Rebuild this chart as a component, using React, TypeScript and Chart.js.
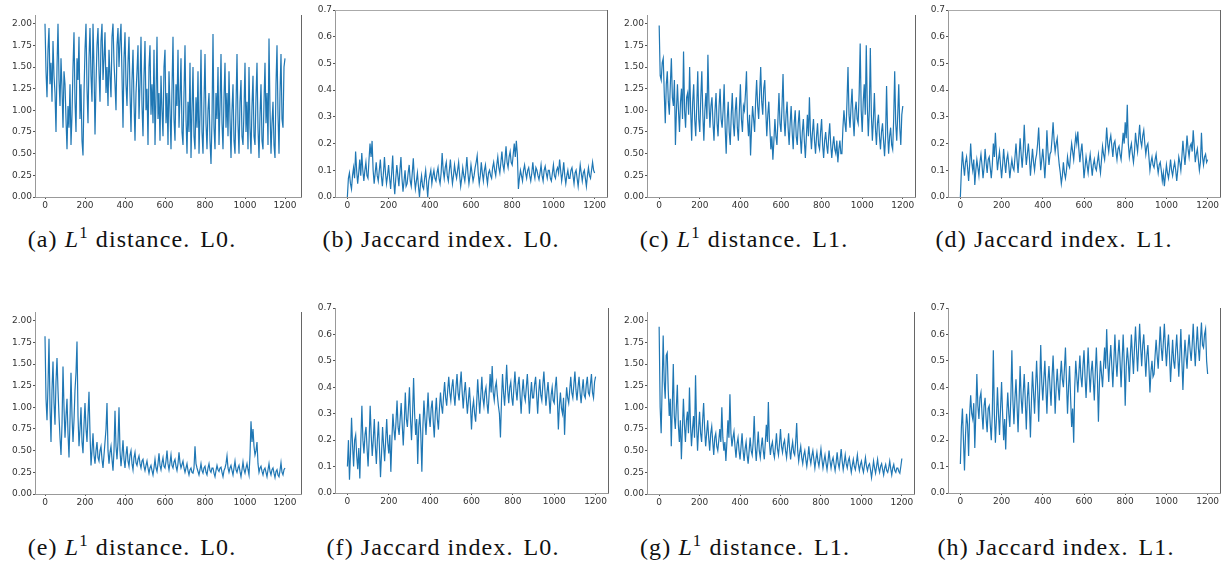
import React, { useEffect, useRef } from "react";
import { Chart, registerables } from "chart.js";

Chart.register(...registerables);

// ---- data -------------------------------------------------------------
const SAMPLE_STEP = 5; // x distance between stored samples
const X_TICKS = [0, 200, 400, 600, 800, 1000, 1200];
const L1_TICKS = [0, 0.25, 0.5, 0.75, 1.0, 1.25, 1.5, 1.75, 2.0];
const JACCARD_TICKS = [0, 0.1, 0.2, 0.3, 0.4, 0.5, 0.6, 0.7];

// (a) L1 distance, L0 (top row)
const l1L0Top = [
  2.0, 1.45, 1.15, 1.7, 1.95, 1.3, 1.55, 1.1, 1.8, 1.4,
  1.2, 0.75, 1.5, 2.0, 1.35, 1.05, 1.6, 1.25, 0.8, 1.45,
  1.3, 0.9, 0.55, 1.05, 0.8, 1.3, 0.6, 0.95, 1.5, 1.9,
  1.1, 0.75, 1.6, 1.35, 1.85, 0.9, 1.3, 0.65, 0.48, 1.2,
  1.7, 2.0, 1.25, 0.85, 1.6, 1.95, 1.4, 1.1, 2.0, 1.5,
  0.72, 1.3, 1.75, 1.95, 1.45, 1.1, 1.8, 2.0, 1.35, 1.6,
  1.9, 1.2, 1.5, 1.05, 1.7, 1.4, 1.15, 1.85, 2.0, 1.55,
  1.3, 1.0, 1.75, 1.95, 1.5, 1.8, 2.0, 1.4, 0.8, 1.6,
  1.9, 1.3, 1.05, 1.55, 1.85, 1.2, 0.75, 1.35, 1.7, 1.1,
  0.65, 1.2, 1.45, 1.75, 0.9, 1.3, 1.85, 1.05, 0.7, 1.4,
  1.8, 1.0, 1.25, 0.6, 1.5, 1.75, 0.95, 1.3, 0.85, 1.7,
  0.6, 1.15, 1.85, 0.9, 1.2, 0.65, 1.4, 1.0, 0.7, 1.5,
  1.7, 0.85, 1.2, 0.6, 1.45, 1.0, 0.55, 1.25, 1.85, 0.9,
  0.65, 1.3, 1.05, 1.7, 0.8, 1.15, 1.6, 0.75, 0.6, 1.2,
  1.75, 0.9, 0.5, 1.1, 0.75, 1.55, 0.45, 1.0, 1.5, 0.7,
  0.55, 1.15, 0.8, 1.45, 0.5, 0.95, 1.7, 0.75, 0.5, 1.1,
  1.65, 0.85, 0.55, 1.0, 1.2, 0.65, 0.38, 0.9, 1.88, 0.8,
  0.55, 1.2, 0.9, 1.5, 0.6, 1.05, 1.65, 0.85, 0.55, 1.15,
  1.55, 0.8, 1.2, 0.7, 1.45, 0.9, 0.45, 1.0, 1.3, 0.65,
  0.5, 1.05, 1.65, 0.85, 0.5, 1.1, 1.35, 0.7, 0.6, 1.0,
  1.55, 0.75, 1.1, 0.55, 1.5, 0.8, 0.5, 1.05, 1.4, 0.7,
  0.6, 1.15, 1.55, 0.8, 0.45, 0.95, 1.3, 0.65, 0.55, 1.1,
  1.55, 0.85, 1.2, 0.6, 1.83, 1.0, 0.5, 0.85, 1.1, 0.6,
  0.45, 1.3, 1.75, 0.95, 0.5, 1.2, 1.65, 0.9, 0.8, 1.5,
  1.6,
];

// (b) Jaccard index, L0 (top row)
const jaccardL0Top = [
  0.0, 0.07, 0.09, 0.05, 0.03, 0.08, 0.11, 0.07, 0.17, 0.1,
  0.05, 0.09, 0.14, 0.08, 0.165, 0.1, 0.06, 0.1, 0.13, 0.08,
  0.07, 0.14, 0.2, 0.15, 0.21, 0.1, 0.05, 0.09, 0.13, 0.08,
  0.06, 0.1, 0.14, 0.08, 0.04, 0.09, 0.15, 0.09, 0.05, 0.08,
  0.12, 0.07, 0.03, 0.09, 0.155, 0.06, 0.01, 0.07, 0.12, 0.08,
  0.04, 0.1, 0.15, 0.07, 0.02, 0.06, 0.1, 0.04, 0.05, 0.09,
  0.12, 0.06, 0.04, 0.09, 0.145, 0.07, 0.03, 0.06, 0.09, 0.04,
  0.0, 0.05, 0.08, 0.04, 0.03, 0.07, 0.1, 0.05, 0.0, 0.06,
  0.08, 0.1, 0.05, 0.08, 0.1, 0.07, 0.06, 0.09, 0.11, 0.07,
  0.05, 0.09, 0.165, 0.1, 0.07, 0.11, 0.13, 0.08, 0.06, 0.1,
  0.14, 0.09, 0.05, 0.08, 0.12, 0.09, 0.07, 0.1, 0.13, 0.08,
  0.04, 0.07, 0.11, 0.08, 0.06, 0.1, 0.15, 0.09, 0.05, 0.08,
  0.12, 0.09, 0.06, 0.08, 0.11, 0.13, 0.155, 0.09, 0.05, 0.08,
  0.13, 0.09, 0.06, 0.1, 0.12, 0.08, 0.05, 0.09, 0.1, 0.08,
  0.07, 0.11, 0.13, 0.1, 0.08, 0.12, 0.15, 0.11, 0.09, 0.13,
  0.17, 0.12, 0.1, 0.14, 0.19, 0.13, 0.11, 0.15, 0.17, 0.13,
  0.12, 0.16, 0.2, 0.15, 0.21, 0.16, 0.03, 0.07, 0.1, 0.08,
  0.06, 0.1, 0.12, 0.09, 0.07, 0.1, 0.11, 0.08, 0.06, 0.09,
  0.13, 0.09, 0.07, 0.11, 0.1, 0.08, 0.065, 0.09, 0.12, 0.08,
  0.06, 0.1, 0.115, 0.09, 0.07, 0.1, 0.1, 0.07, 0.06, 0.09,
  0.12, 0.08, 0.07, 0.1, 0.11, 0.09, 0.14, 0.1, 0.06, 0.09,
  0.13, 0.08, 0.05, 0.08, 0.1, 0.07, 0.07, 0.1, 0.11, 0.08,
  0.05, 0.09, 0.1, 0.07, 0.04, 0.08, 0.12, 0.09, 0.06, 0.09,
  0.1, 0.07, 0.04, 0.08, 0.11, 0.08, 0.07, 0.1, 0.13, 0.1,
  0.09,
];

// (c) L1 distance, L1 (top row)
const l1L1Top = [
  1.98, 1.4, 1.35, 1.55, 1.6, 1.2, 0.85, 1.3, 1.45, 1.1,
  0.95, 1.3, 1.6, 1.15, 1.05, 1.35, 0.6, 1.0, 1.3, 1.0,
  0.75, 1.1, 1.25, 0.9, 1.68, 1.0, 0.8, 1.15, 1.2, 0.95,
  1.5, 1.0, 0.65, 1.1, 1.3, 0.9, 0.7, 1.05, 1.45, 0.9,
  0.75, 1.15, 1.45, 0.95, 0.65, 1.0, 1.2, 0.9, 1.64, 1.1,
  0.8, 1.05, 1.15, 0.85, 0.65, 1.0, 1.2, 0.85, 0.7, 1.05,
  1.25, 0.9, 0.8, 1.0, 1.3, 0.8, 0.5, 0.9, 1.1, 0.75,
  0.6, 0.95, 1.2, 0.85, 0.7, 1.0, 1.15, 0.8, 0.65, 1.0,
  1.3, 0.9, 0.75, 1.05, 1.0, 1.2, 1.45, 0.9, 0.7, 0.95,
  0.48, 0.8, 1.05, 0.9, 0.75, 1.1, 1.35, 1.05, 0.9, 1.2,
  1.5, 1.1, 0.95, 1.25, 1.35, 1.0, 0.7, 0.95, 1.1, 0.8,
  0.55, 0.7, 0.43, 0.65, 0.9, 0.7, 0.6, 0.9, 1.2, 0.85,
  0.75, 1.05, 1.42, 0.9, 0.7, 0.95, 1.1, 0.8, 0.6, 0.85,
  1.05, 0.75, 0.55, 0.85, 1.0, 0.7, 0.6, 0.85, 1.0, 0.7,
  0.5, 0.75, 0.9, 0.65, 0.45, 0.7, 0.95, 0.7, 1.15, 0.75,
  0.55, 0.75, 0.9, 0.65, 0.5, 0.7, 0.85, 0.6, 0.55, 0.75,
  0.9, 0.6, 0.45, 0.65, 0.75, 0.6, 0.5, 0.7, 0.85, 0.6,
  0.45, 0.6, 0.7, 0.55, 0.5, 0.65, 0.4, 0.55, 0.65, 0.5,
  0.5, 0.8, 1.0, 0.85, 0.75, 1.1, 1.5, 0.95, 0.8, 1.05,
  1.25, 0.9, 0.7, 1.0, 1.1, 0.9, 0.85, 1.2, 1.77, 1.0,
  0.75, 1.1, 1.3, 0.95, 1.75, 1.05, 0.7, 1.0, 1.72, 0.95,
  0.65, 0.9, 1.2, 0.8, 0.6, 0.85, 0.95, 0.7, 0.55, 0.75,
  0.85, 0.65, 0.47, 0.7, 1.28, 0.75, 0.5, 0.7, 0.8, 0.6,
  0.55, 0.9, 1.45, 0.85, 0.65, 0.95, 1.3, 0.8, 0.6, 0.95,
  1.05,
];

// (d) Jaccard index, L1 (top row)
const jaccardL1Top = [
  0.0, 0.1, 0.17, 0.12, 0.08, 0.13, 0.15, 0.11, 0.06, 0.12,
  0.2, 0.13, 0.1, 0.14, 0.045, 0.1, 0.14, 0.11, 0.08, 0.13,
  0.16, 0.12, 0.07, 0.11, 0.18, 0.13, 0.09, 0.14, 0.15, 0.11,
  0.07, 0.12, 0.2, 0.15, 0.24, 0.16, 0.1, 0.14, 0.17, 0.12,
  0.07, 0.12, 0.18, 0.13, 0.09, 0.14, 0.16, 0.12, 0.07, 0.11,
  0.14, 0.11, 0.1, 0.15, 0.2, 0.14, 0.09, 0.15, 0.22, 0.16,
  0.11, 0.17, 0.27, 0.18, 0.12, 0.16, 0.2, 0.15, 0.08, 0.13,
  0.18, 0.13, 0.1, 0.14, 0.16, 0.2, 0.26, 0.17, 0.1, 0.14,
  0.18, 0.13, 0.07, 0.14, 0.25, 0.17, 0.12, 0.16, 0.17, 0.22,
  0.28, 0.21, 0.17, 0.2, 0.22, 0.16, 0.12, 0.09, 0.05, 0.08,
  0.13, 0.09, 0.07, 0.1, 0.15, 0.12, 0.11, 0.16, 0.2, 0.17,
  0.14, 0.19, 0.23, 0.2, 0.245, 0.18, 0.13, 0.17, 0.2, 0.14,
  0.07, 0.11, 0.15, 0.12, 0.09, 0.13, 0.16, 0.12, 0.08, 0.12,
  0.14, 0.11, 0.1, 0.13, 0.16, 0.12, 0.09, 0.14, 0.19, 0.16,
  0.14, 0.19, 0.26, 0.2, 0.17, 0.21, 0.23, 0.19, 0.15, 0.2,
  0.21, 0.17, 0.14, 0.18, 0.19, 0.16, 0.14, 0.19, 0.24, 0.2,
  0.28, 0.22, 0.345, 0.2, 0.15, 0.18, 0.2, 0.16, 0.13, 0.17,
  0.24, 0.2, 0.17, 0.22, 0.27, 0.21, 0.19, 0.23, 0.25, 0.2,
  0.16, 0.19, 0.2, 0.15, 0.1, 0.13, 0.15, 0.12, 0.11, 0.14,
  0.16, 0.12, 0.09, 0.12, 0.13, 0.1, 0.06, 0.09, 0.04, 0.08,
  0.12, 0.09, 0.07, 0.1, 0.14, 0.1, 0.08, 0.11, 0.13, 0.1,
  0.06, 0.1, 0.15, 0.13, 0.1, 0.15, 0.21, 0.16, 0.12, 0.17,
  0.23, 0.18, 0.15, 0.19, 0.2, 0.17, 0.25, 0.19, 0.13, 0.16,
  0.18, 0.14, 0.1, 0.13, 0.24, 0.15, 0.12, 0.15, 0.16, 0.13,
  0.14,
];

// (e) L1 distance, L0 (bottom row)
const l1L0Bottom = [
  1.82, 1.1, 0.85, 1.25, 1.79, 1.0, 0.6, 1.2, 1.53, 1.05,
  0.8, 1.3, 1.57, 1.2, 0.9, 0.65, 0.45, 0.8, 1.47, 1.0,
  0.65, 0.9, 1.1, 0.7, 0.42, 0.85, 1.4, 0.9, 0.6, 0.85,
  1.2, 1.4, 1.76, 0.9, 0.55, 0.75, 1.0, 0.6, 0.47, 0.8,
  1.05, 0.75, 0.6, 0.9, 1.18, 0.7, 0.33, 0.5, 0.7, 0.45,
  0.35, 0.5, 0.6, 0.42, 0.38, 0.5, 0.55, 0.4, 0.3, 0.45,
  0.6, 0.75, 1.05, 0.5, 0.35, 0.48, 0.55, 0.4, 0.27, 0.5,
  0.96, 0.55, 0.4, 0.6, 1.0, 0.5, 0.32, 0.45, 0.62, 0.4,
  0.3, 0.45, 0.55, 0.38, 0.32, 0.45, 0.5, 0.35, 0.28, 0.42,
  0.48, 0.36, 0.33, 0.4, 0.44, 0.35, 0.3, 0.38, 0.4, 0.32,
  0.27, 0.33, 0.38, 0.3, 0.24, 0.3, 0.33, 0.27, 0.22, 0.3,
  0.4, 0.3, 0.26, 0.35, 0.47, 0.33, 0.28, 0.36, 0.42, 0.32,
  0.3, 0.38, 0.5, 0.35, 0.28, 0.36, 0.45, 0.33, 0.3, 0.37,
  0.4, 0.32, 0.27, 0.35, 0.48, 0.36, 0.3, 0.34, 0.38, 0.3,
  0.25, 0.3, 0.35, 0.27, 0.22, 0.28, 0.3, 0.25, 0.24, 0.3,
  0.55, 0.35, 0.3, 0.26, 0.22, 0.28, 0.35, 0.27, 0.24, 0.3,
  0.32, 0.25, 0.22, 0.3, 0.35, 0.27, 0.25, 0.3, 0.3, 0.24,
  0.2, 0.27, 0.33, 0.28, 0.26, 0.3, 0.31, 0.25, 0.2, 0.27,
  0.3, 0.35, 0.44, 0.3, 0.25, 0.3, 0.33, 0.27, 0.22, 0.3,
  0.38, 0.28, 0.25, 0.3, 0.33, 0.26, 0.2, 0.28, 0.37, 0.28,
  0.24, 0.3, 0.35, 0.28, 0.22, 0.45, 0.84, 0.6, 0.75, 0.55,
  0.45, 0.5, 0.6, 0.35, 0.25, 0.3, 0.32, 0.26, 0.22, 0.28,
  0.3, 0.25, 0.2, 0.28, 0.35, 0.26, 0.22, 0.28, 0.3, 0.24,
  0.19, 0.26, 0.28, 0.22, 0.2, 0.27, 0.36, 0.25, 0.22, 0.28,
  0.3,
];

// (f) Jaccard index, L0 (bottom row)
const jaccardL0Bottom = [
  0.1, 0.2, 0.05, 0.15, 0.285, 0.18, 0.1, 0.2, 0.22, 0.14,
  0.09, 0.17, 0.055, 0.2, 0.33, 0.2, 0.15, 0.22, 0.25, 0.17,
  0.1, 0.2, 0.33, 0.22, 0.14, 0.2, 0.28, 0.18, 0.11, 0.2,
  0.27, 0.17, 0.06, 0.15, 0.25, 0.18, 0.12, 0.2, 0.28, 0.19,
  0.15, 0.22, 0.08, 0.2, 0.3, 0.24, 0.2, 0.27, 0.35, 0.25,
  0.22, 0.28, 0.34, 0.26, 0.18, 0.27, 0.38, 0.28, 0.25, 0.32,
  0.4, 0.28, 0.2, 0.3, 0.435, 0.3, 0.22, 0.28, 0.11, 0.25,
  0.3, 0.22, 0.08, 0.25, 0.35, 0.28, 0.22, 0.3, 0.38, 0.29,
  0.25, 0.32, 0.35, 0.27, 0.21, 0.3, 0.36, 0.28, 0.24, 0.32,
  0.38, 0.33, 0.3, 0.37, 0.42, 0.36, 0.33, 0.39, 0.44, 0.38,
  0.35, 0.4, 0.43, 0.37, 0.33, 0.4, 0.45, 0.38, 0.35, 0.41,
  0.46, 0.38, 0.32, 0.38, 0.42, 0.36, 0.3, 0.35, 0.4, 0.33,
  0.24, 0.32, 0.35, 0.3, 0.27, 0.34, 0.43, 0.36, 0.3, 0.37,
  0.44, 0.36, 0.33, 0.38, 0.4, 0.34, 0.3, 0.37, 0.45, 0.38,
  0.48, 0.38, 0.35, 0.4, 0.42, 0.37, 0.33, 0.3, 0.21, 0.35,
  0.45, 0.38, 0.33, 0.4, 0.485, 0.39, 0.34, 0.4, 0.42, 0.36,
  0.33, 0.4, 0.46, 0.39, 0.35, 0.41, 0.44, 0.37, 0.3, 0.38,
  0.43, 0.37, 0.35, 0.4, 0.45, 0.38, 0.3, 0.37, 0.42, 0.36,
  0.36, 0.41, 0.44, 0.37, 0.3, 0.38, 0.43, 0.37, 0.35, 0.41,
  0.46, 0.39, 0.33, 0.38, 0.42, 0.36, 0.3, 0.37, 0.4, 0.35,
  0.34, 0.4, 0.44, 0.36, 0.24, 0.33, 0.38, 0.32, 0.3, 0.36,
  0.22, 0.33, 0.4, 0.36, 0.34, 0.39, 0.44, 0.38, 0.36, 0.41,
  0.46, 0.39, 0.35, 0.4, 0.44, 0.38, 0.34, 0.39, 0.43, 0.37,
  0.36, 0.41, 0.44, 0.38, 0.37, 0.41, 0.45, 0.38, 0.36, 0.42,
  0.44,
];

// (g) L1 distance, L1 (bottom row)
const l1L1Bottom = [
  1.93, 1.0, 0.7, 1.25, 1.83, 1.3, 1.1, 1.6, 1.63, 1.2,
  0.9, 1.1, 0.55, 1.0, 1.5, 0.9, 0.75, 1.0, 1.26, 0.8,
  0.6, 0.85, 0.4, 0.75, 1.1, 0.8, 0.6, 0.85, 0.95, 0.7,
  1.23, 0.8, 0.55, 0.75, 0.9, 0.65, 1.37, 0.8, 0.5, 0.75,
  0.95, 0.7, 0.6, 0.85, 1.05, 0.75, 0.55, 0.7, 0.85, 0.65,
  0.5, 0.7, 0.78, 0.6, 0.45, 0.65, 0.7, 0.55, 0.5, 0.62,
  0.75, 0.6, 1.0, 0.65, 0.5, 0.6, 0.38, 0.6, 0.85, 0.65,
  1.15, 0.7, 0.55, 0.65, 0.72, 0.55, 0.42, 0.58, 0.65, 0.5,
  0.4, 0.55, 0.7, 0.5, 0.38, 0.52, 0.6, 0.45, 0.35, 0.5,
  0.65, 0.5, 0.45, 0.6, 0.9, 0.55, 0.38, 0.55, 0.72, 0.5,
  0.42, 0.55, 0.65, 0.5, 0.4, 0.6, 0.8, 0.6, 1.06, 0.6,
  0.45, 0.55, 0.6, 0.48, 0.42, 0.55, 0.7, 0.52, 0.45, 0.58,
  0.75, 0.55, 0.48, 0.58, 0.62, 0.5, 0.42, 0.55, 0.7, 0.52,
  0.4, 0.52, 0.6, 0.48, 0.45, 0.6, 0.82, 0.5, 0.38, 0.48,
  0.55, 0.42, 0.35, 0.45, 0.5, 0.4, 0.32, 0.42, 0.55, 0.42,
  0.35, 0.44, 0.5, 0.4, 0.3, 0.4, 0.48, 0.38, 0.32, 0.42,
  0.52, 0.4, 0.3, 0.38, 0.45, 0.36, 0.28, 0.38, 0.5, 0.38,
  0.3, 0.38, 0.42, 0.34, 0.27, 0.36, 0.48, 0.36, 0.3, 0.4,
  0.52, 0.38, 0.28, 0.36, 0.45, 0.35, 0.3, 0.38, 0.42, 0.33,
  0.25, 0.33, 0.4, 0.32, 0.28, 0.36, 0.45, 0.34, 0.27, 0.34,
  0.38, 0.3, 0.25, 0.33, 0.42, 0.32, 0.27, 0.33, 0.35, 0.28,
  0.19, 0.28, 0.38, 0.3, 0.24, 0.32, 0.4, 0.3, 0.25, 0.32,
  0.35, 0.28, 0.22, 0.3, 0.34, 0.27, 0.25, 0.3, 0.38, 0.29,
  0.22, 0.3, 0.34, 0.27, 0.25, 0.3, 0.3, 0.26, 0.24, 0.32,
  0.41,
];

// (h) Jaccard index, L1 (bottom row)
const jaccardL1Bottom = [
  0.11, 0.25, 0.32, 0.2, 0.085, 0.22, 0.3, 0.26, 0.14, 0.3,
  0.37, 0.3, 0.28, 0.34, 0.17, 0.3, 0.45, 0.33, 0.28, 0.36,
  0.38, 0.3, 0.24, 0.33, 0.36, 0.28, 0.23, 0.32, 0.33, 0.26,
  0.2, 0.3, 0.54, 0.3, 0.19, 0.28, 0.4, 0.3, 0.22, 0.32,
  0.42, 0.3, 0.2, 0.28, 0.165, 0.3, 0.38, 0.3, 0.25, 0.36,
  0.54, 0.35, 0.26, 0.36, 0.43, 0.33, 0.23, 0.35, 0.48, 0.36,
  0.3, 0.38, 0.45, 0.35, 0.24, 0.36, 0.42, 0.33, 0.21, 0.35,
  0.46, 0.38, 0.3, 0.4, 0.5, 0.4, 0.27, 0.4, 0.56, 0.42,
  0.35, 0.43, 0.5, 0.4, 0.3, 0.42, 0.48, 0.4, 0.33, 0.44,
  0.52, 0.42, 0.3, 0.4, 0.47, 0.4, 0.35, 0.44, 0.5, 0.43,
  0.4, 0.47, 0.55, 0.42, 0.3, 0.4, 0.48, 0.36, 0.25, 0.32,
  0.19, 0.4, 0.5, 0.44, 0.38, 0.45, 0.52, 0.44, 0.4, 0.48,
  0.54, 0.44, 0.36, 0.45, 0.55, 0.46, 0.38, 0.46, 0.5, 0.43,
  0.35, 0.46, 0.55, 0.44, 0.27, 0.42, 0.5, 0.45, 0.4, 0.48,
  0.55, 0.47, 0.62, 0.5, 0.42, 0.5, 0.56, 0.48, 0.4, 0.5,
  0.6, 0.5, 0.44, 0.52, 0.58, 0.5, 0.4, 0.5, 0.6, 0.5,
  0.33, 0.48, 0.55, 0.5, 0.42, 0.52, 0.6, 0.52, 0.45, 0.55,
  0.63, 0.54, 0.46, 0.55, 0.64, 0.55, 0.48, 0.56, 0.6, 0.52,
  0.44, 0.52, 0.56, 0.48, 0.38, 0.46, 0.5, 0.44, 0.45, 0.52,
  0.58, 0.52, 0.47, 0.55, 0.63, 0.55, 0.5, 0.57, 0.64, 0.55,
  0.48, 0.55, 0.6, 0.52, 0.42, 0.5, 0.58, 0.5, 0.47, 0.54,
  0.6, 0.52, 0.44, 0.52, 0.62, 0.5, 0.39, 0.5, 0.58, 0.52,
  0.47, 0.55, 0.6, 0.54, 0.5, 0.56, 0.64, 0.55, 0.48, 0.56,
  0.63, 0.55, 0.5, 0.58, 0.645, 0.56, 0.55, 0.6, 0.62, 0.5,
  0.45,
];

// ---- layout --------------------------------------------------------------
type Kind = "l1" | "jac";
interface PanelCfg {
  values: number[];
  kind: Kind;
  box: [number, number, number, number]; // plot area: left, top, right, bottom
  xMin: number;
  xMax: number;
  topLine: boolean;
  letter: string;
  level: string;
  cx: number;
  cy: number;
}

const PANELS: PanelCfg[] = [
  { values: l1L0Top, kind: "l1", box: [35, 15, 301, 197], xMin: -50, xMax: 1280, topLine: false, letter: "a", level: "L0", cx: 132, cy: 227 },
  { values: jaccardL0Top, kind: "jac", box: [335, 10, 607, 197], xMin: -60, xMax: 1260, topLine: true, letter: "b", level: "L0", cx: 441, cy: 227 },
  { values: l1L1Top, kind: "l1", box: [647, 15, 915, 197], xMin: -60, xMax: 1260, topLine: false, letter: "c", level: "L1", cx: 744, cy: 227 },
  { values: jaccardL1Top, kind: "jac", box: [948, 10, 1220, 197], xMin: -60, xMax: 1260, topLine: true, letter: "d", level: "L1", cx: 1054, cy: 227 },
  { values: l1L0Bottom, kind: "l1", box: [35, 312, 301, 494], xMin: -50, xMax: 1280, topLine: false, letter: "e", level: "L0", cx: 132, cy: 535 },
  { values: jaccardL0Bottom, kind: "jac", box: [335, 308, 608, 493], xMin: -60, xMax: 1260, topLine: false, letter: "f", level: "L0", cx: 443, cy: 535 },
  { values: l1L1Bottom, kind: "l1", box: [647, 312, 914, 494], xMin: -60, xMax: 1260, topLine: false, letter: "g", level: "L1", cx: 745, cy: 535 },
  { values: jaccardL1Bottom, kind: "jac", box: [948, 308, 1220, 493], xMin: -60, xMax: 1260, topLine: false, letter: "h", level: "L1", cx: 1056, cy: 535 },
];

const YW = 40; // y-axis band width
const XH = 20; // x-axis band height
const PT = 10; // top padding
const PR = 6; // right padding

const framePlugin = {
  id: "frame",
  afterDraw(chart: any, _args: any, opts: any) {
    const { ctx, chartArea } = chart;
    const { left, top, right, bottom } = chartArea;
    ctx.save();
    ctx.lineWidth = 1;
    ctx.strokeStyle = "#666";
    ctx.beginPath();
    const rx = Math.round(right) + 0.5;
    ctx.moveTo(rx, top);
    ctx.lineTo(rx, bottom);
    ctx.stroke();
    if (opts && opts.top) {
      ctx.strokeStyle = "#aaa";
      ctx.beginPath();
      const ty = Math.round(top) + 0.5;
      ctx.moveTo(left, ty);
      ctx.lineTo(right, ty);
      ctx.stroke();
    }
    ctx.restore();
  },
};

const TICK_FONT = { family: "'DejaVu Sans', sans-serif", size: 9 };

function Panel({ p }: { p: PanelCfg }) {
  const ref = useRef<HTMLCanvasElement>(null);
  const [l, t, r, b] = p.box;
  const width = r - l + YW + PR;
  const height = b - t + PT + XH;

  useEffect(() => {
    const isL1 = p.kind === "l1";
    const yTicks = isL1 ? L1_TICKS : JACCARD_TICKS;
    const chart = new Chart(ref.current as HTMLCanvasElement, {
      type: "line",
      data: {
        datasets: [
          {
            data: p.values.map((v, i) => ({ x: i * SAMPLE_STEP, y: v })),
            borderColor: "#1f77b4",
            borderWidth: 1.2,
            pointRadius: 0,
            tension: 0,
            fill: false,
          },
        ],
      },
      options: {
        animation: false,
        responsive: false,
        events: [],
        layout: { padding: { top: PT, right: PR, left: 0, bottom: 0 } },
        plugins: {
          legend: { display: false },
          tooltip: { enabled: false },
          frame: { top: p.topLine },
        } as any,
        scales: {
          x: {
            type: "linear",
            min: p.xMin,
            max: p.xMax,
            afterBuildTicks: (s: any) => {
              s.ticks = X_TICKS.map((v) => ({ value: v }));
            },
            afterFit: (s: any) => {
              s.height = XH;
            },
            grid: { drawOnChartArea: false, drawTicks: true, tickLength: 2, color: "#555" },
            border: { display: true, color: "#999" },
            ticks: {
              padding: 1,
              font: TICK_FONT,
              color: "#333",
              maxRotation: 0,
              autoSkip: false,
              callback: (v: any) => String(v),
            },
          },
          y: {
            type: "linear",
            min: 0,
            max: isL1 ? 2.1 : 0.7,
            afterBuildTicks: (s: any) => {
              s.ticks = yTicks.map((v) => ({ value: v }));
            },
            afterFit: (s: any) => {
              s.width = YW;
            },
            grid: { drawOnChartArea: false, drawTicks: true, tickLength: 2, color: "#555" },
            border: { display: true, color: "#999" },
            ticks: {
              padding: 1,
              font: TICK_FONT,
              color: "#333",
              autoSkip: false,
              callback: (v: any) => Number(v).toFixed(isL1 ? 2 : 1),
            },
          },
        },
      } as any,
      plugins: [framePlugin as any],
    });
    return () => chart.destroy();
  }, [p]);

  return (
    <canvas
      ref={ref}
      width={width}
      height={height}
      style={{ position: "absolute", left: l - YW, top: t - PT, width, height }}
    />
  );
}

function Caption({ p }: { p: PanelCfg }) {
  return (
    <div
      style={{
        position: "absolute",
        left: p.cx - 200,
        top: p.cy,
        width: 400,
        textAlign: "center",
        fontFamily: "'Liberation Serif', 'Times New Roman', serif",
        fontSize: 24,
        lineHeight: "24px",
        letterSpacing: "1.1px",
        color: "#111",
        whiteSpace: "nowrap",
      }}
    >
      ({p.letter}){" "}
      {p.kind === "l1" ? (
        <>
          <i>L</i>
          <span style={{ fontSize: "0.7em", position: "relative", top: "-0.55em" }}>1</span> distance.
        </>
      ) : (
        <>Jaccard index.</>
      )}
      <span style={{ marginLeft: 10 }}>{p.level}.</span>
    </div>
  );
}

export default function App() {
  return (
    <div
      style={{
        position: "absolute",
        left: 0,
        top: 0,
        width: 1227,
        height: 569,
        background: "#fff",
        overflow: "hidden",
      }}
    >
      {PANELS.map((p) => (
        <Panel key={p.letter} p={p} />
      ))}
      {PANELS.map((p) => (
        <Caption key={"c" + p.letter} p={p} />
      ))}
    </div>
  );
}
